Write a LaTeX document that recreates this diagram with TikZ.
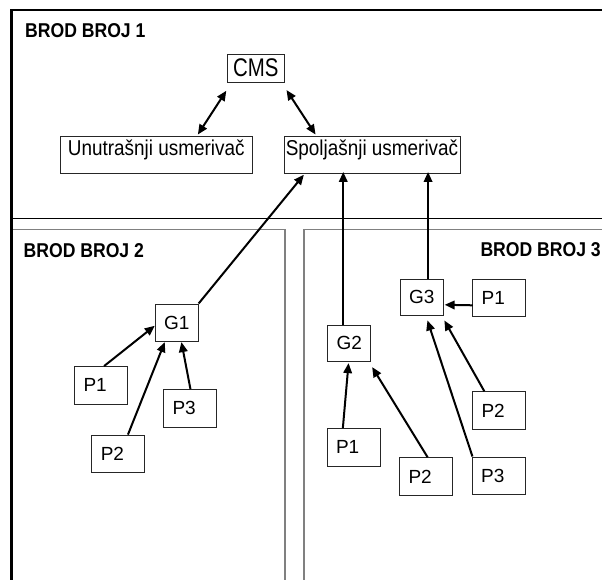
\documentclass[tikz,border=0pt]{standalone}
\usepackage{fontspec}
\setmainfont{Liberation Sans}
\newfontfamily\condfont[FakeStretch=0.88]{Liberation Sans}
\newfontfamily\cmsfont[FakeStretch=0.8]{Liberation Sans}
\usetikzlibrary{arrows.meta}

\tikzset{
  box/.style={draw=black!85, line width=0.9pt, inner sep=0pt,
    font=\fontsize{19}{22}\selectfont},
  gbox/.style={box, minimum width=43pt, minimum height=36pt},
  pbox/.style={box, minimum width=53pt, minimum height=37.5pt,
    text width=35pt, align=left, inner xsep=9pt},
  router/.style={box, font=\condfont\fontsize{21.5}{24}\selectfont,
    text height=19.5pt, text depth=17pt},
  title/.style={inner sep=0pt, font=\condfont\fontsize{20}{23}\selectfont\bfseries},
  arr/.style={line width=2pt, -{Triangle[length=10pt,width=8.5pt]}},
  dblarr/.style={line width=2pt, {Triangle[length=10pt,width=8.5pt]}-{Triangle[length=10pt,width=8.5pt]}},
  shipframe/.style={draw=black!50, line width=1.4pt},
}

\begin{document}
\begin{tikzpicture}[x=1pt, y=-1pt]
\useasboundingbox (0,0) rectangle (602,580);
\clip (0,0) rectangle (602,580);

% ship compartments
\draw[shipframe] (12,600) -- (12,229.3) -- (285,229.3) -- (285,600);
\draw[shipframe] (304,600) -- (304,229.3) -- (620,229.3);
% separator below ship 1
\draw[line width=1pt] (12,218.3) -- (610,218.3);
% outer frame
\draw[line width=2.8pt] (11.5,600) -- (11.5,10) -- (620,10);

% titles
\node[title, anchor=base west] (t1) at (25,38) {BROD BROJ 1};
\node[title, anchor=base west] (t2) at (23.5,257) {BROD BROJ 2};
\node[title, anchor=base east] (t3) at (601,256.5) {BROD BROJ 3};

% ship 1
\node[box, minimum width=56.7pt, font=\cmsfont\fontsize{25.5}{28}\selectfont,
      text height=22.7pt, text depth=5.3pt] (cms) at (255.7,68) {CMS};
\node[router, minimum width=191.5pt] (unu) at (156.25,154.75) {Unutrašnji usmerivač};
\node[router, minimum width=176pt] (spo) at (372,154.75) {Spoljašnji usmerivač};

% ship 2
\node[gbox, minimum height=37.7pt] (g1) at (176.7,322.8) {G1};
\node[pbox] (s2p1) at (101,385.3) {P1};
\node[pbox] (s2p2) at (118.3,453.8) {P2};
\node[pbox] (s2p3) at (190,408.3) {P3};

% ship 3
\node[gbox, minimum height=35.3pt] (g2) at (349.2,343.3) {G2};
\node[gbox] (g3) at (421.7,297.3) {G3};
\node[pbox] (s3p1a) at (499.2,297.8) {P1};
\node[pbox] (s3p2a) at (499,410.5) {P2};
\node[pbox] (s3p3) at (498.7,475.7) {P3};
\node[pbox] (s3p1b) at (353.5,447.3) {P1};
\node[pbox] (s3p2b) at (426,476.5) {P2};

% links inside ship 1
\draw[dblarr] ([shift={(-0.6,8.3)}]cms.south west) -- ([shift={(137.8,-1.5)}]unu.north west);
\draw[dblarr] ([shift={(2,7.6)}]cms.south east) -- ([shift={(32,-1.5)}]spo.north west);

% gateways to the external router
\coordinate (g2top) at ([xshift=16pt]g2.north west);
\coordinate (g3top) at ([xshift=28.3pt]g3.north west);
\draw[arr] (g1.north east) -- ([shift={(20.3,1.3)}]spo.south west);
\draw[arr, shorten >=-1.5pt] (g2top) -- (g2top |- spo.south);
\draw[arr, shorten >=-1.5pt] (g3top) -- (g3top |- spo.south);

% ship 2 sensors
\draw[arr] ([xshift=30pt]s2p1.north west) -- ([yshift=-3pt]g1.west);
\draw[arr] ([xshift=36.6pt]s2p2.north west) -- ([xshift=10pt]g1.south west);
\draw[arr] ([xshift=27.4pt]s2p3.north west) -- ([xshift=26.7pt]g1.south west);

% ship 3 sensors
\draw[arr] ([shift={(0.5,7.5)}]s3p1a.west) -- ([shift={(1,7.5)}]g3.east);
\draw[arr] ([xshift=16.3pt]s3p1b.north west) -- ([shift={(21.3,1.7)}]g2.south west);
\draw[arr] ([xshift=28.6pt]s3p2b.north west) -- ([shift={(1,5.7)}]g2.south east);
\draw[arr] ([xshift=0.7pt]s3p3.north west) -- ([shift={(27.7,4.7)}]g3.south west);
\draw[arr] ([xshift=12.3pt]s3p2a.north west) -- ([shift={(0.7,4.7)}]g3.south east);
\end{tikzpicture}
\end{document}
